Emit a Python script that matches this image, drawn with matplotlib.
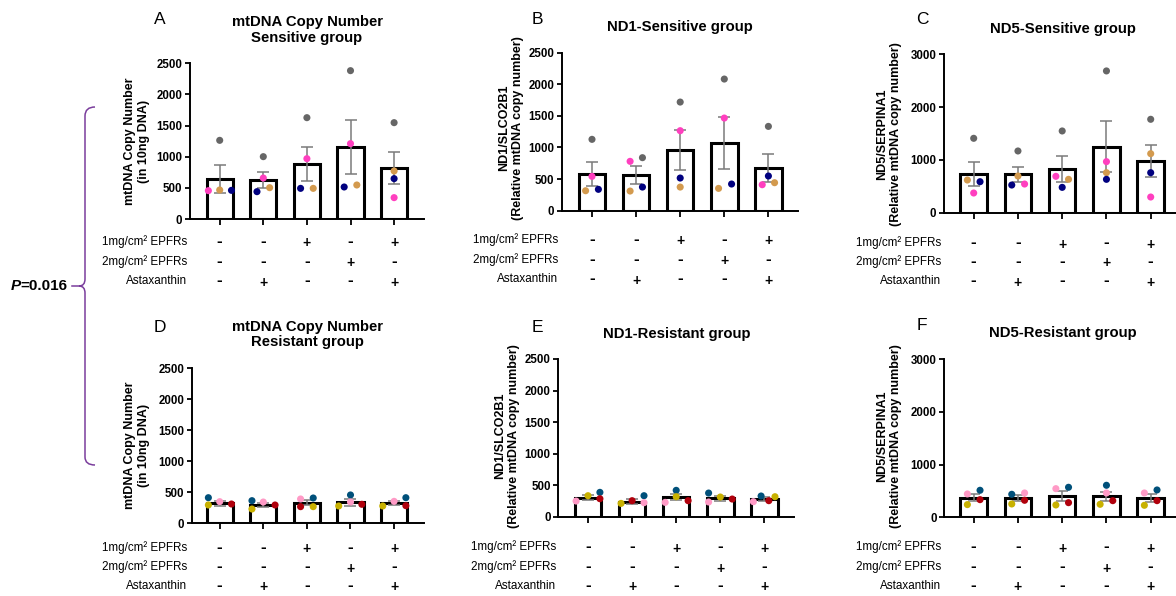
import matplotlib
matplotlib.use("Agg")
import matplotlib.pyplot as plt
from matplotlib.path import Path
from matplotlib.patches import PathPatch
import matplotlib.transforms as mtransforms
import numpy as np

plt.rcParams['font.family'] = ['Liberation Sans', 'DejaVu Sans']

# ---------------- data ----------------
conditions = ["1", "2", "3", "4", "5"]
row_labels = ["1mg/cm² EPFRs", "2mg/cm² EPFRs", "Astaxanthin"]
row_epfr1 = ["-", "-", "+", "-", "+"]
row_epfr2 = ["-", "-", "-", "+", "-"]
row_asta = ["-", "+", "-", "-", "+"]

# Sensitive group (A-C): series gray, pink, tan, navy
A_means = [642, 632, 883, 1156, 819]
A_sems = [220, 128, 273, 434, 251]
A_gray = [1263, 1001, 1627, 2382, 1547]
A_pink = [455, 658, 969, 1210, 343]
A_tan = [466, 503, 492, 546, 771]
A_navy = [460, 439, 492, 514, 648]

B_means = [575, 564, 955, 1071, 680]
B_sems = [190, 140, 316, 419, 221]
B_gray = [1129, 839, 1719, 2083, 1334]
B_pink = [543, 781, 1266, 1466, 411]
B_tan = [316, 311, 374, 353, 443]
B_navy = [338, 374, 517, 422, 549]

C_means = [739, 726, 828, 1251, 973]
C_sems = [230, 148, 243, 483, 306]
C_gray = [1409, 1169, 1548, 2685, 1769]
C_pink = [373, 543, 689, 967, 297]
C_tan = [619, 695, 632, 758, 1118]
C_navy = [587, 524, 480, 632, 758]

# Resistant group (D-F): series blue, pink, yellow, red
D_means = [318, 296, 329, 334, 323]
D_sems = [40, 33, 42, 55, 40]
D_blue = [409, 361, 404, 453, 409]
D_pink = [345, 339, 388, 339, 350]
D_yellow = [291, 226, 264, 275, 275]
D_red = [307, 291, 264, 302, 280]

E_means = [301, 238, 307, 291, 280]
E_sems = [40, 40, 45, 40, 35]
E_blue = [386, 333, 418, 375, 328]
E_pink = [248, 222, 227, 233, 238]
E_yellow = [333, 211, 317, 312, 317]
E_red = [285, 254, 254, 280, 254]

F_means = [373, 361, 399, 399, 373]
F_sems = [70, 55, 95, 88, 76]
F_blue = [513, 437, 570, 608, 519]
F_pink = [443, 462, 544, 462, 462]
F_yellow = [241, 253, 234, 247, 228]
F_red = [335, 323, 278, 316, 316]

# ---------------- jitter (layout) ----------------
A_jit = [[0, 0, 0, 0, 0], [-0.26, 0, 0, 0, 0], [0, 0.145, 0.145, 0.145, 0], [0.27, -0.145, -0.145, -0.145, 0]]
B_jit = [[0, 0.144, 0, 0, 0], [0, -0.136, 0, 0, -0.14], [-0.145, -0.136, 0, -0.13, 0.14], [0.145, 0.144, 0, 0.165, 0]]
C_jit = [[0, 0, 0, 0, 0], [0, 0.15, -0.143, 0, 0], [-0.143, 0, 0.143, 0, 0], [0.143, -0.14, 0, 0, 0]]
D_jit = [[-0.26, -0.26, 0.145, 0, 0.27], [0, 0, -0.145, 0, 0], [-0.26, -0.26, 0.145, -0.27, -0.26], [0.27, 0.27, -0.145, 0.26, 0.27]]
E_jit = [[0.27, 0.27, 0, -0.265, -0.075], [-0.27, 0.27, -0.25, -0.265, -0.25], [0, -0.25, 0, 0, 0.24], [0.27, 0, 0.27, 0.27, 0.1]]
F_jit = [[0.143, -0.14, 0.143, 0, 0.143], [-0.143, 0.15, -0.143, 0, -0.143], [-0.143, -0.14, -0.143, -0.143, -0.143], [0.143, 0.15, 0.143, 0.143, 0.143]]

sens_colors = ['#666666', '#ff3fbf', '#d39a4e', '#00007f']
res_colors = ['#00507a', '#ff9ac6', '#c8b100', '#b0000c']

W, H = 1176, 596
fig = plt.figure(figsize=(W / 100, H / 100), dpi=100)
fig.patch.set_facecolor('white')

overlay = fig.add_axes([0, 0, 1, 1], zorder=-1)
overlay.set_xlim(0, W)
overlay.set_ylim(H, 0)
overlay.axis('off')
overlay.patch.set_alpha(0)


def make_panel(L, R, top, bottom, c0, s, ymax, ystep, means, sems, series, jits, colors,
               letter, letter_xy, title, title_xy, ylabel, ylabel_xy, rows_y, label_x):
    ax = fig.add_axes([L / W, 1 - bottom / H, (R - L) / W, (bottom - top) / H])
    x0 = -(c0 - L) / s
    ax.set_xlim(x0, x0 + (R - L) / s)
    ax.set_ylim(0, ymax)
    x = np.arange(len(conditions))
    ax.bar(x, means, width=0.6, facecolor='white', edgecolor='black', linewidth=2.2, zorder=2)
    ax.errorbar(x, means, yerr=sems, fmt='none', ecolor='#7a7a7a', elinewidth=1.1,
                capsize=4.5, capthick=1.1, zorder=3)
    for vals, jit, col in zip(series, jits, colors):
        ax.scatter(x + np.array(jit), vals, s=26, color=col, edgecolors='none', zorder=4, clip_on=False)
    for sp in ['top', 'right']:
        ax.spines[sp].set_visible(False)
    for sp in ['left', 'bottom']:
        ax.spines[sp].set_linewidth(1.4)
    ax.set_yticks(np.arange(0, ymax + 1, ystep))
    ax.set_xticks(x)
    ax.set_xticklabels([])
    ax.tick_params(axis='y', length=3.5, width=1.3, pad=2, labelsize=8.3)
    ax.tick_params(axis='x', length=4.3, width=1.3)
    for lab in ax.get_yticklabels():
        lab.set_fontweight('bold')
    ax.patch.set_alpha(0)

    overlay.text(letter_xy[0], letter_xy[1], letter, fontsize=12.5, ha='center', va='center')
    overlay.text(title_xy[0], title_xy[1], title, fontsize=10.7, fontweight='bold',
                 ha='center', va='center', linespacing=1.12)
    overlay.text(ylabel_xy[0], ylabel_xy[1], ylabel, fontsize=9, fontweight='bold',
                 ha='center', va='center', rotation=90, multialignment='center', linespacing=1.2)
    trans = mtransforms.blended_transform_factory(ax.transData, overlay.transData)
    for ry, lab, signs in zip(rows_y, row_labels, [row_epfr1, row_epfr2, row_asta]):
        overlay.text(label_x, ry, lab, fontsize=8.4, ha='right', va='center')
        for xi, sg in zip(x, signs):
            if sg == '-':
                ax.text(xi, ry - 0.5, '-', transform=trans, fontsize=12.5, fontweight='bold',
                        ha='center', va='center', clip_on=False)
            else:
                ax.text(xi, ry + 1.5, '+', transform=trans, fontsize=10, fontweight='bold',
                        ha='center', va='center', clip_on=False)
    return ax


make_panel(190, 424, 63.3, 219, 219.7, 43.6, 2500, 500, A_means, A_sems,
           [A_gray, A_pink, A_tan, A_navy], A_jit, sens_colors,
           'A', (160, 20), 'mtDNA Copy Number\nSensitive group', (307, 30),
           'mtDNA Copy Number\n(in 10ng DNA)', (137, 141), [242, 262, 281], 187)
make_panel(562, 798, 52.7, 210.7, 592, 44.1, 2500, 500, B_means, B_sems,
           [B_gray, B_pink, B_tan, B_navy], B_jit, sens_colors,
           'B', (537, 20), 'ND1-Sensitive group', (680, 27),
           'ND1/SLCO2B1\n(Relative mtDNA copy number)', (511, 128), [240, 260, 279], 558)
make_panel(944, 1181, 54.3, 212.7, 973.7, 44.25, 3000, 1000, C_means, C_sems,
           [C_gray, C_pink, C_tan, C_navy], C_jit, sens_colors,
           'C', (922, 20), 'ND5-Sensitive group', (1063, 29),
           'ND5/SERPINA1\n(Relative mtDNA copy number)', (889, 134), [243, 262, 281], 941)
make_panel(191.7, 424, 368.3, 523, 219.7, 43.6, 2500, 500, D_means, D_sems,
           [D_blue, D_pink, D_yellow, D_red], D_jit, res_colors,
           'D', (160, 328), 'mtDNA Copy Number\nResistant group', (307, 334.5),
           'mtDNA Copy Number\n(in 10ng DNA)', (137, 445), [548, 567, 586], 187)
make_panel(558.3, 794, 359, 516.7, 588, 44.1, 2500, 500, E_means, E_sems,
           [E_blue, E_pink, E_yellow, E_red], E_jit, res_colors,
           'E', (537, 327), 'ND1-Resistant group', (677, 334),
           'ND1/SLCO2B1\n(Relative mtDNA copy number)', (507, 436), [547, 567, 586], 556)
make_panel(944.3, 1181, 359.3, 517.3, 973.7, 44.25, 3000, 1000, F_means, F_sems,
           [F_blue, F_pink, F_yellow, F_red], F_jit, res_colors,
           'F', (922, 326), 'ND5-Resistant group', (1063, 333),
           'ND5/SERPINA1\n(Relative mtDNA copy number)', (889, 436), [547, 567, 586], 941)

# ---------------- P-value brace ----------------
purple = '#7a3d9c'
verts = [(95, 107), (85, 107), (85, 116), (85, 279), (85, 286), (79, 286),
         (85, 286), (85, 293), (85, 457), (85, 465), (95, 465)]
codes = [Path.MOVETO, Path.CURVE3, Path.CURVE3, Path.LINETO, Path.CURVE3, Path.CURVE3,
         Path.CURVE3, Path.CURVE3, Path.LINETO, Path.CURVE3, Path.CURVE3]
overlay.add_patch(PathPatch(Path(verts, codes), facecolor='none', edgecolor=purple, lw=1.1))
overlay.plot([72, 79], [286, 286], color=purple, lw=1.1)
overlay.text(20.5, 286, 'P', fontsize=11, fontweight='bold', fontstyle='italic', ha='right', va='center')
overlay.text(20.5, 286, '=0.016', fontsize=11, fontweight='bold', ha='left', va='center')

fig.savefig('out.png', dpi=100, facecolor='white')
